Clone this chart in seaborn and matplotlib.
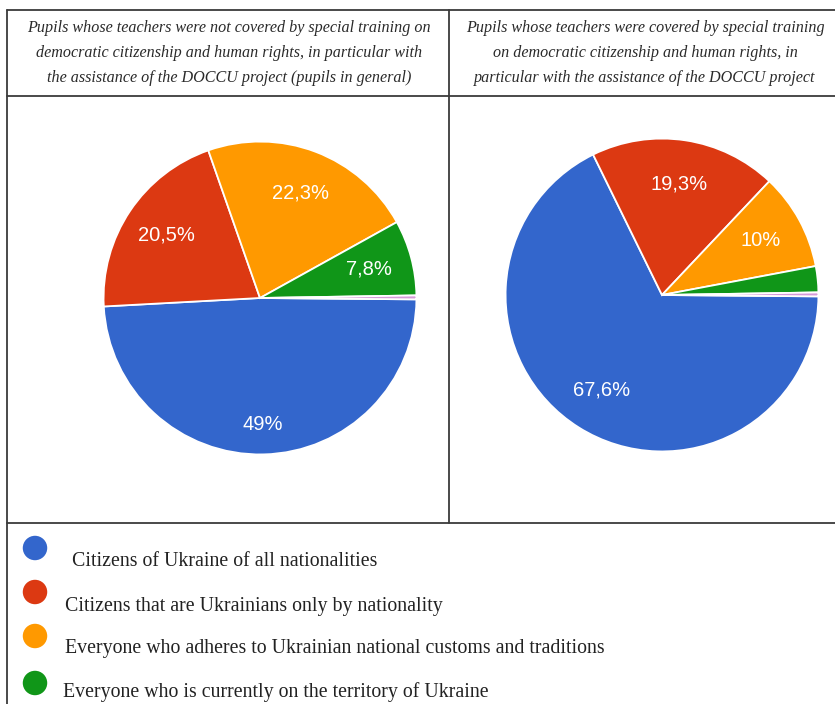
import matplotlib
matplotlib.use("Agg")
import matplotlib.pyplot as plt
import seaborn as sns

# data
categories = [
    "Citizens of Ukraine of all nationalities",
    "Citizens that are Ukrainians only by nationality",
    "Everyone who adheres to Ukrainian national customs and traditions",
    "Everyone who is currently on the territory of Ukraine",
    "Other",
]
not_trained = [49.0, 20.5, 22.3, 7.8, 0.4]
trained = [67.6, 19.3, 10.0, 2.7, 0.4]

titles = [
    "Pupils whose teachers were not covered by special training on\n"
    "democratic citizenship and human rights, in particular with\n"
    "the assistance of the DOCCU project (pupils in general)",
    "Pupils whose teachers were covered by special training\n"
    "on democratic citizenship and human rights, in\n"
    "particular with the assistance of the DOCCU project",
]

sns.set_theme(style="white")
plt.rcParams['font.family'] = ['Liberation Sans', 'DejaVu Sans']
colors = sns.color_palette(["#3366CC", "#DC3912", "#FF9900", "#109618", "#d59ad8"])

W, H = 835, 704
fig = plt.figure(figsize=(W / 100, H / 100), dpi=100)

# overlay in pixel coords for the table frame, headers and legend
bg = fig.add_axes([0, 0, 1, 1])
bg.set_xlim(0, W)
bg.set_ylim(H, 0)
bg.axis("off")

line_kw = dict(color="#3a3a3a", lw=1.3)
bg.plot([7, W], [10, 10], **line_kw)
bg.plot([7, W], [96, 96], **line_kw)
bg.plot([7, W], [523, 523], **line_kw)
bg.plot([7, 7], [10, H], **line_kw)
bg.plot([449, 449], [10, 523], **line_kw)

for cx, t in zip([229, 645], titles):
    bg.text(cx, 53, t, ha="center", va="center", fontsize=11.6,
            family="Liberation Serif", style="italic", color="#2a2a2a",
            linespacing=1.75)


def fmt(p):
    if p < 5:
        return ""
    return f"{round(p, 1):g}".replace(".", ",") + "%"


def draw_pie(vals, cx, cy, r):
    ax = fig.add_axes([(cx - r) / W, 1 - (cy + r) / H, 2 * r / W, 2 * r / H])
    wedges, texts, autotexts = ax.pie(
        vals, colors=colors, startangle=-0.5, counterclock=False,
        autopct=fmt, pctdistance=0.72,
        wedgeprops=dict(edgecolor="white", linewidth=1.3),
        textprops=dict(color="white", fontsize=14.5))
    ax.set_xlim(-1.01, 1.01)
    ax.set_ylim(-1.01, 1.01)
    ax.set_aspect("equal")
    ax.axis("off")
    return ax, autotexts


_, at_left = draw_pie(not_trained, 260, 298, 158)
draw_pie(trained, 662, 295, 158)

# the 49% label sits further out in the original
x, y = at_left[0].get_position()
at_left[0].set_position((x * 0.81 / 0.72, y * 0.81 / 0.72))

# legend as in the source document
dot_y = [548, 592, 636, 683]
text_x = [72, 65, 65, 63]
text_y = [561, 606, 649, 692]
for c, lab, dy, tx, ty in zip(colors[:4], categories[:4], dot_y, text_x, text_y):
    bg.scatter([35], [dy], s=310, color=c, edgecolor="none")
    bg.text(tx, ty, lab, ha="left", va="center", fontsize=14.3,
            family="Liberation Serif", color="#222222")

fig.savefig("out.png", dpi=100)
